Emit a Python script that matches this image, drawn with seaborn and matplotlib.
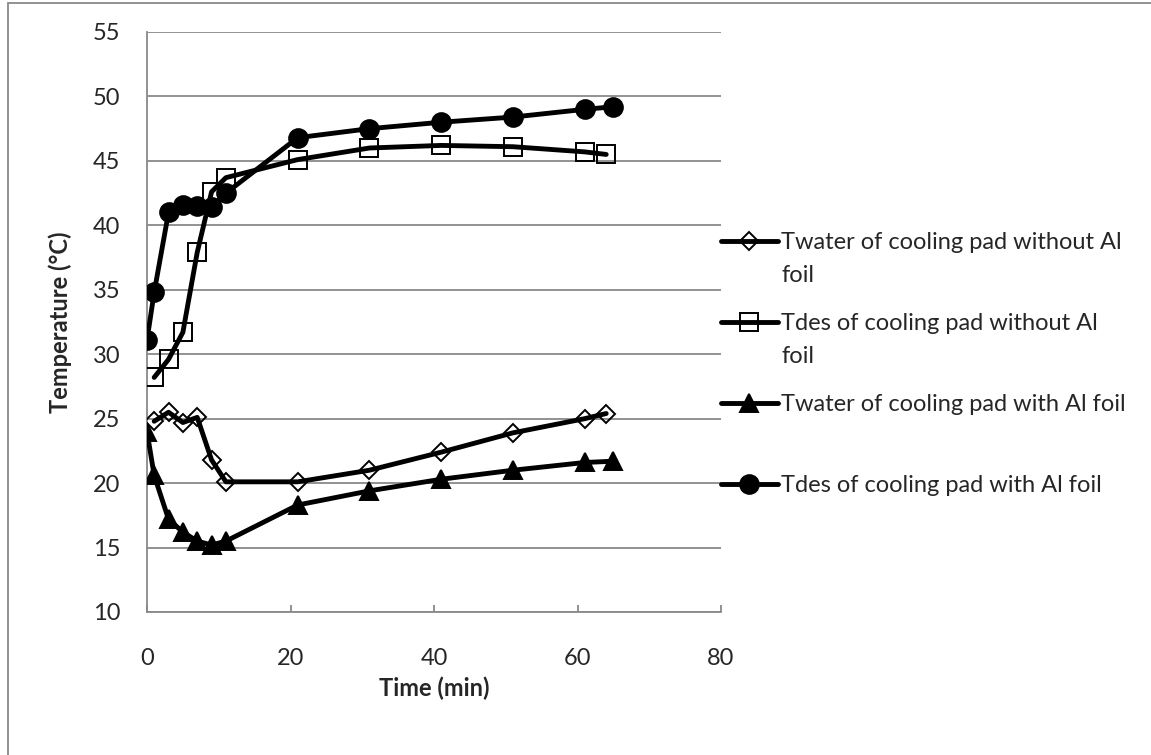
import matplotlib
matplotlib.use("Agg")
import matplotlib.pyplot as plt
from matplotlib.patches import Rectangle
import seaborn as sns

# time (min) for each series
t_water_no = [1, 3, 5, 7, 9, 11, 21, 31, 41, 51, 61, 64]
t_des_no = [1, 3, 5, 7, 9, 11, 21, 31, 41, 51, 61, 64]
t_water_al = [0, 1, 3, 5, 7, 9, 11, 21, 31, 41, 51, 61, 65]
t_des_al = [0, 1, 3, 5, 7, 9, 11, 21, 31, 41, 51, 61, 65]

# temperatures (°C)
water_no = [24.8, 25.5, 24.7, 25.1, 21.8, 20.1, 20.1, 21.0, 22.4, 23.9, 25.0, 25.4]
des_no = [28.2, 29.6, 31.7, 37.9, 42.6, 43.7, 45.1, 46.0, 46.2, 46.1, 45.7, 45.5]
water_al = [24.0, 20.6, 17.2, 16.2, 15.5, 15.2, 15.5, 18.3, 19.4, 20.3, 21.0, 21.6, 21.7]
des_al = [31.1, 34.8, 41.0, 41.6, 41.5, 41.4, 42.5, 46.8, 47.5, 48.0, 48.4, 49.0, 49.2]

# legend labels (first line, wrapped remainder)
labels = ["Twater of cooling pad without Al",
          "Tdes of cooling pad without Al",
          "Twater of cooling pad with Al foil",
          "Tdes of cooling pad with Al foil"]
wrapped = ["foil", "foil", "", ""]

W, H = 1151, 755
FS = 17

sns.set_theme(style="white")
plt.rcParams['font.family'] = ['Lato', 'DejaVu Sans']
plt.rcParams['font.size'] = FS

fig = plt.figure(figsize=(W / 100, H / 100), dpi=100)
ax = fig.add_axes([147 / W, 1 - 612 / H, (721 - 147) / W, (612 - 32) / H])

series = [
    (t_water_no, water_no, "D", 9, "none"),
    (t_des_no, des_no, "s", 12.5, "none"),
    (t_water_al, water_al, "^", 13, "black"),
    (t_des_al, des_al, "o", 13.5, "black"),
]
for (x, y, m, ms, fc), lab in zip(series, labels):
    sns.lineplot(x=x, y=y, ax=ax, color="black", lw=3.5, marker=m,
                 markersize=ms, markerfacecolor=fc, markeredgecolor="black",
                 markeredgewidth=1.4, label=lab, sort=False, zorder=3)

grid_c = "#898989"
ax.set_xlim(0, 80)
ax.set_ylim(10, 55)
ax.set_xticks([0, 20, 40, 60, 80])
ax.set_yticks(range(10, 56, 5))
ax.yaxis.grid(True, color=grid_c, lw=1.3)
ax.xaxis.grid(False)
for s in ["top", "right"]:
    ax.spines[s].set_visible(False)
for s in ["left", "bottom"]:
    ax.spines[s].set_color(grid_c)
    ax.spines[s].set_linewidth(1.3)
ax.tick_params(axis="x", direction="in", length=5, width=1.3, color=grid_c,
               pad=26, labelsize=FS, bottom=True)
ax.tick_params(axis="y", length=0, pad=19, labelsize=FS)

ax.set_xlabel("Time (min)", fontweight="bold", fontsize=FS, va="center")
ax.xaxis.set_label_coords(0.5, -(688 - 612) / 580)
ax.set_ylabel("Temperature (°C)", fontweight="bold", fontsize=FS, va="center")
ax.yaxis.set_label_coords(-(147 - 60) / 574, 0.5)

leg = ax.legend(loc="upper left", bbox_to_anchor=(721 / W, 1 - 232 / H),
                bbox_transform=fig.transFigure, frameon=False, fontsize=FS,
                handlelength=2.4, handletextpad=0.15, labelspacing=2.54,
                borderpad=0, borderaxespad=0)

fig.canvas.draw()
for txt, extra in zip(leg.get_texts(), wrapped):
    if extra:
        ax.annotate(extra, xy=(0, 0), xycoords=txt, xytext=(0, -33),
                    textcoords="offset pixels", ha="left", va="bottom",
                    fontsize=FS)

fig.patches.append(Rectangle((8 / W, -0.05), 1.1, 1 - 3 / H + 0.05,
                             transform=fig.transFigure, fill=False,
                             edgecolor=grid_c, lw=1.3))

fig.savefig("out.png", dpi=100)
